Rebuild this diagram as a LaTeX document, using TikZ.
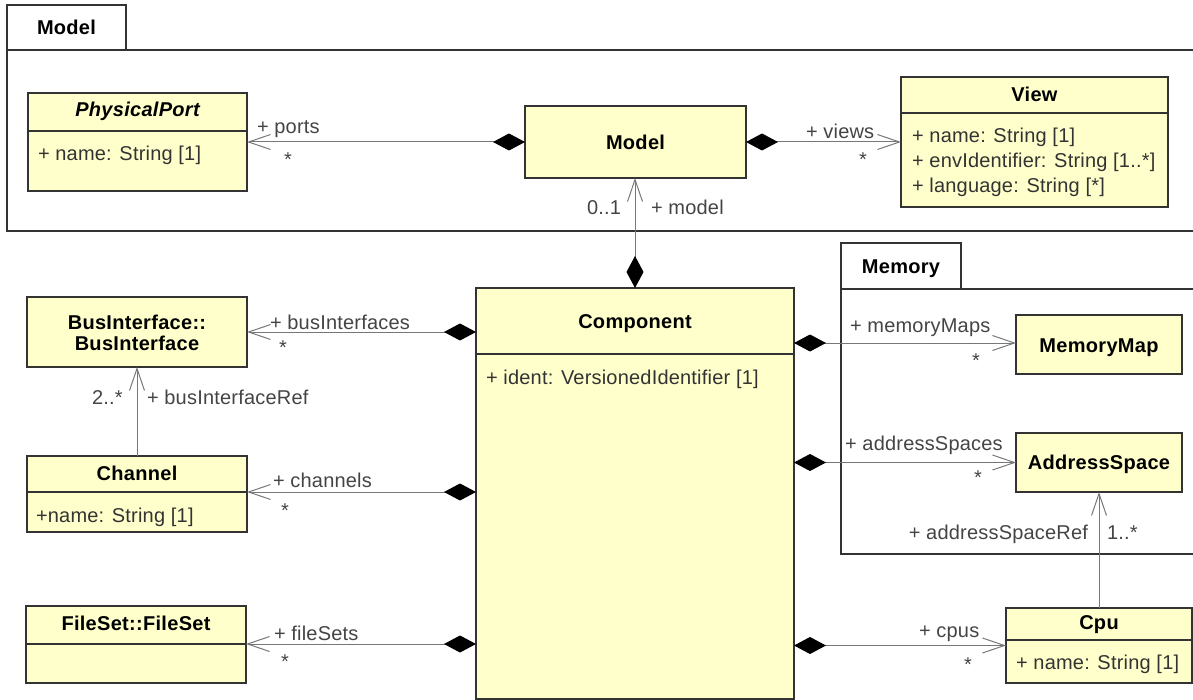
\documentclass[tikz,border=0pt]{standalone}
\usepackage{fontspec}
\setmainfont{Liberation Sans}[LetterSpace=1]
\newfontfamily\headfont{Liberation Sans}[LetterSpace=1.5]
\usetikzlibrary{arrows.meta}

\definecolor{classfill}{HTML}{FFFFCC}
\definecolor{boxline}{HTML}{333333}
\definecolor{linkgray}{HTML}{777777}
\definecolor{labelgray}{HTML}{444444}
\definecolor{attrgray}{HTML}{333333}

\tikzset{
  txt/.style={inner sep=0pt, outer sep=0pt, text height=14.4pt, text depth=0pt,
              font=\fontsize{20}{22}\selectfont},
  head/.style={txt, text=black, font=\headfont\bfseries\fontsize{20}{22}\selectfont},
  attr/.style={txt, anchor=west, text=attrgray},
  lbl/.style={txt, anchor=west, text=labelgray},
  mult/.style={txt, text=labelgray},
  cls/.style={rectangle, draw=boxline, fill=classfill, line width=1.2pt,
              inner sep=0pt, outer sep=0pt},
  pkgtab/.style={rectangle, draw=boxline, fill=white, line width=1.2pt, inner sep=0pt,
                 outer sep=0pt, text height=14.4pt, text depth=0pt, text=black,
                 font=\headfont\bfseries\fontsize{20}{22}\selectfont},
  pkgline/.style={draw=boxline, line width=1.2pt},
  divider/.style={draw=boxline, line width=1.2pt},
  composite/.style={draw=linkgray, line width=1pt,
     arrows={Diamond[length=32pt,width=17pt,color=black]-Straight Barb[length=22pt,width=15pt]}},
  refer/.style={draw=linkgray, line width=1pt,
     arrows={-Straight Barb[length=22pt,width=15pt]}},
}

\begin{document}
\begin{tikzpicture}[x=1pt,y=-1pt]
\useasboundingbox (0,0) rectangle (1193,700);

% ---- package frames ----
\node[pkgtab, minimum width=119pt, minimum height=45pt] (pkgmodel) at (66.5,27.5) {Model};
\draw[pkgline] (1193,50) -- (7,50) -- (7,231) -- (1193,231);

\node[pkgtab, minimum width=120pt, minimum height=46pt] (pkgmemory) at (901,266) {Memory};
\draw[pkgline] (1193,289) -- (841,289) -- (841,554) -- (1193,554);

% ---- classes of the Model package ----
\node[cls, minimum width=219pt, minimum height=98pt] (pport) at (137.5,142) {};
\draw[divider] (28,131) -- (247,131);
\node[head] (pport-t) at (137.5,109.5) {\itshape PhysicalPort};
\node[attr] (pport-a1) at (38,153) {+ name: String [1]};

\node[cls, minimum width=221pt, minimum height=72pt] (model) at (635.5,142) {};
\node[head] (model-t) at (635.5,142) {Model};

\node[cls, minimum width=267pt, minimum height=130pt] (view) at (1034.5,142) {};
\draw[divider] (901,113) -- (1168,113);
\node[head] (view-t) at (1034.5,94) {View};
\node[attr] (view-a1) at (912,135) {+ name: String [1]};
\node[attr] (view-a2) at (912,160) {+ envIdentifier: String [1..*]};
\node[attr] (view-a3) at (912,185) {+ language: String [*]};

% ---- component and its parts ----
\node[cls, minimum width=318pt, minimum height=411pt] (comp) at (635,493.5) {};
\draw[divider] (476,354) -- (794,354);
\node[head] (comp-t) at (635,321) {Component};
\node[attr] (comp-a1) at (486,377) {+ ident: VersionedIdentifier [1]};

\node[cls, minimum width=220pt, minimum height=70pt] (bus) at (137,332) {};
\node[head] (bus-t1) at (137,322) {BusInterface::};
\node[head] (bus-t2) at (137,343) {BusInterface};

\node[cls, minimum width=220pt, minimum height=76pt] (chan) at (137,494) {};
\draw[divider] (27,492) -- (247,492);
\node[head] (chan-t) at (137,473) {Channel};
\node[attr] (chan-a1) at (36,515) {+name: String [1]};

\node[cls, minimum width=220pt, minimum height=77pt] (fset) at (136,644.5) {};
\draw[divider] (26,644) -- (246,644);
\node[head] (fset-t) at (136,623) {FileSet::FileSet};

\node[cls, minimum width=166pt, minimum height=59pt] (mmap) at (1099,344.5) {};
\node[head] (mmap-t) at (1099,345) {MemoryMap};

\node[cls, minimum width=166pt, minimum height=59pt] (aspace) at (1099,462.5) {};
\node[head] (aspace-t) at (1099,462) {AddressSpace};

\node[cls, minimum width=186pt, minimum height=75pt] (cpu) at (1099,645.5) {};
\draw[divider] (1006,640) -- (1192,640);
\node[head] (cpu-t) at (1099,622) {Cpu};
\node[attr] (cpu-a1) at (1016,662) {+ name: String [1]};

% ---- compositions ----
\draw[composite] (model.west) -- (pport.east);
\node[lbl] (l-ports) at (257,126) {+ ports};
\node[mult] (m-ports) at (288,159) {*};

\draw[composite] (model.east) -- (view.west);
\node[lbl] (l-views) at (806,131) {+ views};
\node[mult] (m-views) at (863,159) {*};

\draw[composite] (comp.north) -- (comp.north |- model.south);
\node[lbl] (m-model) at (587,207) {0..1};
\node[lbl] (l-model) at (651,207) {+ model};

\draw[composite] (comp.west |- bus.east) -- (bus.east);
\node[lbl] (l-bus) at (270,322) {+ busInterfaces};
\node[mult] (m-bus) at (283,347) {*};

\draw[composite] (comp.west |- 0,492) -- (chan.east |- 0,492);
\node[lbl] (l-chan) at (273,480) {+ channels};
\node[mult] (m-chan) at (285,510) {*};

\draw[composite] (comp.west |- 0,644) -- (fset.east |- 0,644);
\node[lbl] (l-fset) at (274,633) {+ fileSets};
\node[mult] (m-fset) at (285,661) {*};

\draw[composite] (comp.east |- 0,343) -- (mmap.west |- 0,343);
\node[lbl] (l-mmap) at (850,325) {+ memoryMaps};
\node[mult] (m-mmap) at (976,360) {*};

\draw[composite] (comp.east |- aspace.west) -- (aspace.west);
\node[lbl] (l-aspace) at (845,443) {+ addressSpaces};
\node[mult] (m-aspace) at (978,477) {*};

\draw[composite] (comp.east |- cpu.west) -- (cpu.west);
\node[lbl] (l-cpu) at (919,630) {+ cpus};
\node[mult] (m-cpu) at (968,664) {*};

% ---- plain references ----
\draw[refer] (chan.north) -- (bus.south);
\node[lbl] (m-busref) at (92,397) {2..*};
\node[lbl] (l-busref) at (147,397) {+ busInterfaceRef};

\draw[refer] (cpu.north) -- (aspace.south);
\node[lbl, anchor=east] (l-asref) at (1088,532) {+ addressSpaceRef};
\node[lbl] (m-asref) at (1107,532) {1..*};
\end{tikzpicture}
\end{document}
